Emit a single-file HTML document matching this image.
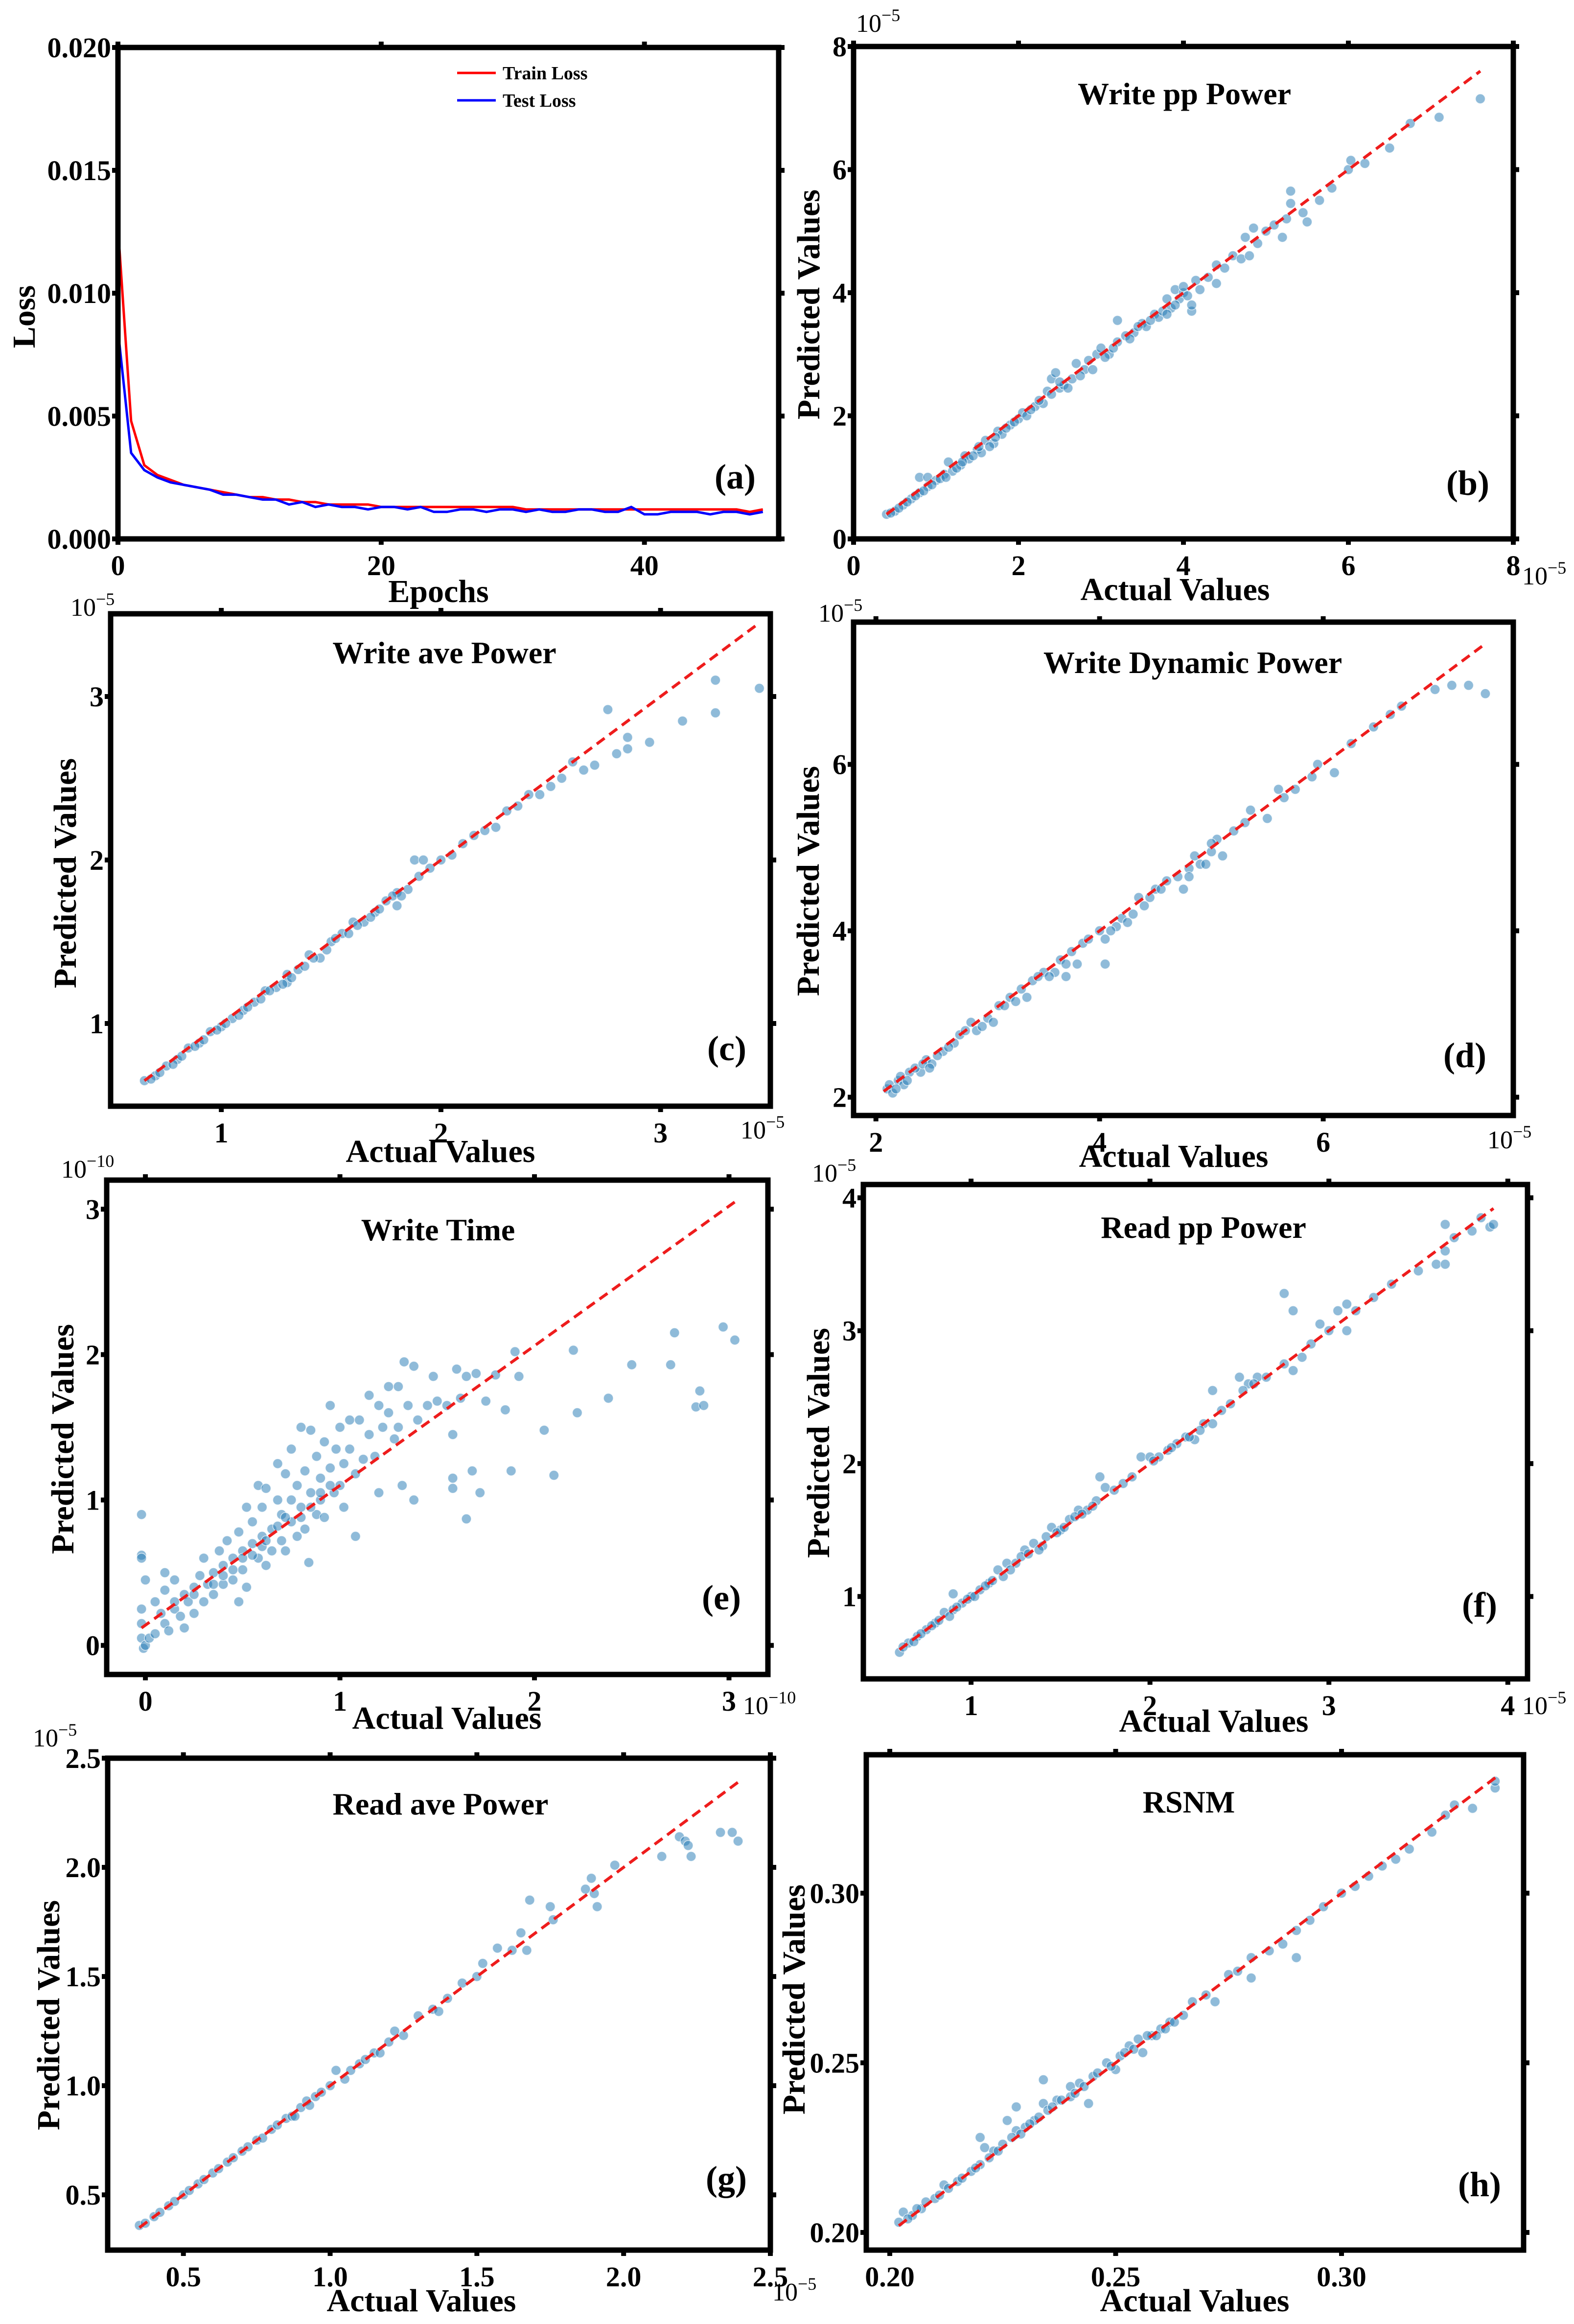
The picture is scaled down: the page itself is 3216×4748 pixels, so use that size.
<!DOCTYPE html>
<html><head><meta charset="utf-8"><title>Model prediction results</title>
<style>
html,body{margin:0;padding:0;background:#fff;}
svg{display:block;}
text{font-family:"Liberation Serif","DejaVu Serif",serif;fill:#000;}
</style></head>
<body>
<svg id="fig" xmlns="http://www.w3.org/2000/svg" width="3216" height="4748" viewBox="0 0 3216 4748">
<rect x="0" y="0" width="3216" height="4748" fill="#fff"></rect>
</svg>
<script>
// ---------- data ----------
const lossEpochs = [0,1,2,3,4,5,6,7,8,9,10,11,12,13,14,15,16,17,18,19,20,21,22,23,24,25,26,27,28,29,30,31,32,33,34,35,36,37,38,39,40,41,42,43,44,45,46,47,48,49];
const trainLoss = [0.0127,0.0048,0.0030,0.0026,0.0024,0.0022,0.0021,0.0020,0.0019,0.0018,0.0017,0.0017,0.0016,0.0016,0.0015,0.0015,0.0014,0.0014,0.0014,0.0014,0.0013,0.0013,0.0013,0.0013,0.0013,0.0013,0.0013,0.0013,0.0013,0.0013,0.0013,0.0012,0.0012,0.0012,0.0012,0.0012,0.0012,0.0012,0.0012,0.0012,0.0012,0.0012,0.0012,0.0012,0.0012,0.0012,0.0012,0.0012,0.0011,0.0012];
const testLoss = [0.0085,0.0035,0.0028,0.0025,0.0023,0.0022,0.0021,0.0020,0.0018,0.0018,0.0017,0.0016,0.0016,0.0014,0.0015,0.0013,0.0014,0.0013,0.0013,0.0012,0.0013,0.0013,0.0012,0.0013,0.0011,0.0011,0.0012,0.0012,0.0011,0.0012,0.0012,0.0011,0.0012,0.0011,0.0011,0.0012,0.0012,0.0011,0.0011,0.0013,0.0010,0.0010,0.0011,0.0011,0.0011,0.0010,0.0011,0.0011,0.0010,0.0011];
const lossXTicks = [0,20,40];
const lossXTickLabels = ["0","20","40"];
const lossYTicks = [0,0.005,0.010,0.015,0.020];
const lossYTickLabels = ["0.000","0.005","0.010","0.015","0.020"];

// scatter data as flat [actual, predicted, ...]
const writePPPoints = [0.4,0.4,0.5,0.45,0.6,0.55,0.7,0.65,0.8,0.75,0.8,1.0,0.9,1.0,0.9,0.85,1.0,0.95,1.1,1.05,1.15,1.25,1.2,1.1,1.3,1.2,1.35,1.35,1.4,1.3,1.5,1.45,1.55,1.4,1.6,1.6,1.7,1.55,1.75,1.75,1.8,1.7,1.9,1.85,2.0,1.95,2.05,2.05,2.1,2.0,2.2,2.15,2.3,2.2,2.35,2.4,2.4,2.6,2.45,2.7,2.5,2.45,2.55,2.5,2.65,2.6,2.7,2.85,2.8,2.75,2.9,2.75,2.95,3.0,3.0,3.1,3.1,3.0,3.2,3.2,3.2,3.55,3.3,3.3,3.4,3.35,3.5,3.5,3.55,3.45,3.65,3.65,3.7,3.6,3.8,3.9,3.85,3.75,3.9,4.05,3.95,3.9,4.0,4.0,4.1,3.7,4.1,3.8,4.15,4.2,4.2,4.05,4.3,4.25,4.4,4.45,4.4,4.15,4.5,4.4,4.6,4.6,4.7,4.55,4.75,4.9,4.8,4.6,4.85,5.05,4.9,4.8,5.0,5.0,5.1,5.1,5.2,4.9,5.25,5.2,5.3,5.65,5.3,5.45,5.45,5.3,5.5,5.15,5.65,5.5,5.8,5.7,6.0,6.0,6.03,6.15,6.2,6.1,6.5,6.35,6.75,6.75,7.1,6.85,7.6,7.15,
 0.45,0.42,0.55,0.5,0.65,0.6,0.75,0.7,0.85,0.78,0.95,0.88,1.05,0.98,1.12,1.0,1.25,1.15,1.32,1.25,1.45,1.35,1.52,1.5,1.65,1.5,1.72,1.65,1.85,1.8,1.95,1.9,2.15,2.1,2.25,2.25,2.4,2.35,2.5,2.55,2.6,2.45,2.75,2.65,2.85,2.9,3.05,2.95,3.15,3.1,3.35,3.25,3.45,3.45,3.6,3.55,3.75,3.7,3.8,3.65,3.9,3.8,4.0,4.1,4.05,3.95];
const writeAvePoints = [0.65,0.65,0.7,0.68,0.75,0.74,0.8,0.78,0.85,0.85,0.9,0.88,0.95,0.95,1.0,0.98,1.05,1.03,1.1,1.08,1.15,1.13,1.2,1.2,1.25,1.22,1.3,1.3,1.3,1.25,1.35,1.33,1.4,1.42,1.45,1.4,1.5,1.5,1.55,1.55,1.6,1.62,1.65,1.62,1.7,1.68,1.75,1.75,1.8,1.72,1.8,1.8,1.85,1.82,1.88,2.0,1.92,2.0,1.9,1.9,1.95,1.95,2.0,2.0,2.05,2.03,2.1,2.1,2.15,2.15,2.2,2.18,2.25,2.2,2.3,2.3,2.35,2.33,2.4,2.4,2.45,2.4,2.5,2.45,2.55,2.5,2.6,2.6,2.65,2.55,2.7,2.58,2.76,2.92,2.8,2.65,2.85,2.68,2.85,2.75,2.95,2.72,3.1,2.85,3.25,2.9,3.25,3.1,3.45,3.05,
 0.68,0.66,0.72,0.7,0.78,0.75,0.82,0.8,0.88,0.86,0.92,0.9,0.98,0.96,1.02,1.0,1.08,1.05,1.12,1.1,1.18,1.15,1.22,1.2,1.28,1.24,1.32,1.28,1.38,1.35,1.42,1.4,1.48,1.45,1.52,1.52,1.58,1.55,1.62,1.6,1.68,1.65,1.72,1.7,1.78,1.78,1.82,1.78];
const writeDynPoints = [2.1,2.1,2.15,2.05,2.2,2.2,2.25,2.15,2.3,2.3,2.4,2.3,2.45,2.45,2.5,2.4,2.6,2.55,2.7,2.65,2.75,2.75,2.85,2.9,2.9,2.8,3.0,2.95,3.05,2.9,3.1,3.1,3.2,3.2,3.3,3.3,3.35,3.2,3.4,3.4,3.5,3.5,3.6,3.5,3.65,3.65,3.7,3.45,3.75,3.75,3.8,3.6,3.85,3.85,4.0,4.0,4.05,3.6,4.05,3.9,4.15,4.05,4.2,4.15,4.3,4.2,4.35,4.4,4.4,4.3,4.5,4.5,4.6,4.6,4.7,4.65,4.75,4.5,4.8,4.75,4.85,4.9,4.9,4.8,5.0,4.95,5.05,5.1,5.1,4.9,5.2,5.2,5.3,5.3,5.35,5.45,5.5,5.35,5.6,5.7,5.65,5.6,5.75,5.7,5.9,5.85,5.95,6.0,6.1,5.9,6.25,6.25,6.45,6.45,6.6,6.6,6.7,6.7,7.0,6.9,7.15,6.95,7.3,6.95,7.45,6.85,
 2.12,2.15,2.18,2.1,2.22,2.25,2.28,2.2,2.35,2.35,2.42,2.4,2.48,2.35,2.55,2.5,2.65,2.6,2.8,2.8,2.95,2.85,3.15,3.1,3.25,3.15,3.45,3.45,3.55,3.45,3.7,3.6,3.9,3.9,4.1,4.0,4.25,4.1,4.45,4.4,4.55,4.5,4.8,4.65,4.95,4.8,5.0,5.05];
const writeTimePoints = [-0.02,0.9,-0.02,0.62,-0.02,0.6,0,0.45,0.1,0.5,-0.02,0.25,-0.02,0.15,-0.02,0.05,-0.01,-0.02,0,0,0.02,0.05,0.05,0.08,0.05,0.3,0.08,0.22,0.1,0.15,0.1,0.38,0.12,0.1,0.15,0.25,0.15,0.45,0.18,0.2,0.2,0.35,0.2,0.12,0.22,0.3,0.25,0.4,0.25,0.22,0.28,0.48,0.3,0.3,0.3,0.6,0.32,0.42,0.35,0.5,0.35,0.35,0.38,0.65,0.4,0.55,0.4,0.42,0.42,0.72,0.45,0.6,0.45,0.45,0.48,0.3,0.48,0.78,0.5,0.65,0.5,0.52,0.52,0.95,0.52,0.4,0.55,0.7,0.55,0.85,0.58,0.6,0.58,1.1,0.6,0.75,0.6,0.95,0.62,0.55,0.62,1.08,0.65,0.8,0.65,0.65,0.68,1.0,0.68,1.25,0.7,0.9,0.7,0.72,0.72,1.18,0.72,0.65,0.75,1.0,0.75,0.85,0.75,1.35,0.78,1.1,0.78,0.75,0.8,0.95,0.8,1.5,0.82,1.2,0.82,0.8,0.84,0.57,0.85,1.05,0.85,1.48,0.88,0.9,0.88,1.3,0.9,1.0,0.9,1.15,0.92,1.4,0.92,0.88,0.95,1.22,0.95,1.65,0.97,1.05,0.98,1.35,1.0,1.1,1.0,1.5,1.02,1.25,1.02,0.95,1.05,1.55,1.05,1.35,1.08,1.18,1.08,0.75,1.1,1.55,1.12,1.28,1.15,1.72,1.15,1.45,1.18,1.3,1.2,1.65,1.2,1.05,1.22,1.5,1.25,1.78,1.25,1.6,1.28,1.42,1.3,1.78,1.3,1.5,1.32,1.1,1.33,1.95,1.35,1.65,1.38,1.92,1.38,1.0,1.4,1.55,1.45,1.65,1.48,1.85,1.5,1.68,1.55,1.65,1.58,1.45,1.58,1.15,1.58,1.08,1.6,1.9,1.62,1.7,1.65,0.87,1.65,1.85,1.68,1.2,1.7,1.87,1.72,1.05,1.75,1.68,1.8,1.86,1.85,1.62,1.88,1.2,1.9,2.02,1.92,1.85,2.05,1.48,2.1,1.17,2.2,2.03,2.22,1.6,2.38,1.7,2.5,1.93,2.7,1.93,2.72,2.15,2.83,1.64,2.85,1.75,2.87,1.65,2.97,2.19,3.03,2.1,
 0.15,0.3,0.25,0.35,0.35,0.42,0.45,0.52,0.55,0.62,0.6,0.68,0.68,0.82,0.72,0.88,0.8,0.88,0.85,0.95,0.9,1.05,0.95,1.1,0.62,0.72,0.5,0.6,0.4,0.48];
const readPPPoints = [0.6,0.58,0.65,0.65,0.7,0.7,0.75,0.75,0.8,0.8,0.85,0.88,0.9,0.9,0.9,1.02,0.95,0.95,1.0,1.0,1.05,1.05,1.1,1.1,1.15,1.2,1.2,1.25,1.25,1.25,1.3,1.35,1.35,1.4,1.4,1.38,1.45,1.52,1.5,1.5,1.55,1.58,1.6,1.65,1.65,1.65,1.7,1.72,1.72,1.9,1.75,1.82,1.8,1.8,1.85,1.85,1.9,1.9,1.95,2.05,2.0,2.05,2.05,2.05,2.1,2.1,2.15,2.15,2.2,2.2,2.25,2.18,2.3,2.3,2.35,2.55,2.35,2.3,2.4,2.4,2.45,2.45,2.5,2.65,2.55,2.6,2.6,2.65,2.65,2.65,2.75,3.28,2.8,3.15,2.75,2.75,2.8,2.7,2.85,2.8,2.9,2.9,2.95,3.05,3.0,3.0,3.05,3.15,3.1,3.2,3.1,3.0,3.15,3.15,3.25,3.25,3.35,3.35,3.5,3.45,3.6,3.5,3.65,3.8,3.65,3.6,3.65,3.5,3.7,3.7,3.8,3.75,3.85,3.85,3.9,3.78,3.92,3.8,
 0.62,0.62,0.68,0.66,0.72,0.72,0.78,0.78,0.82,0.82,0.88,0.85,0.92,0.92,0.98,0.98,1.02,1.0,1.08,1.08,1.12,1.12,1.18,1.15,1.22,1.2,1.28,1.3,1.32,1.32,1.38,1.35,1.42,1.45,1.48,1.48,1.52,1.52,1.58,1.6,1.62,1.62,1.68,1.68,2.02,2.02,2.12,2.12,2.22,2.2,2.28,2.25,2.52,2.55,2.58,2.6];
const readAvePoints = [0.35,0.36,0.4,0.4,0.45,0.45,0.5,0.5,0.55,0.55,0.6,0.6,0.65,0.65,0.7,0.7,0.75,0.75,0.8,0.8,0.85,0.85,0.9,0.9,0.95,0.95,1.0,1.0,1.02,1.07,1.05,1.03,1.1,1.1,1.15,1.15,1.2,1.2,1.22,1.25,1.25,1.23,1.3,1.32,1.35,1.35,1.37,1.34,1.4,1.4,1.45,1.47,1.5,1.5,1.52,1.56,1.57,1.63,1.62,1.62,1.65,1.7,1.67,1.62,1.68,1.85,1.75,1.82,1.76,1.76,1.87,1.9,1.89,1.95,1.9,1.88,1.91,1.82,1.97,2.01,2.13,2.05,2.19,2.14,2.21,2.12,2.22,2.1,2.23,2.05,2.33,2.16,2.37,2.16,2.39,2.12,
 0.37,0.37,0.42,0.42,0.47,0.47,0.52,0.52,0.57,0.57,0.62,0.62,0.67,0.67,0.72,0.72,0.77,0.76,0.82,0.82,0.87,0.86,0.92,0.93,0.97,0.97,0.88,0.86,0.93,0.91,1.07,1.07,1.12,1.12,1.17,1.15];
const rsnmPoints = [0.202,0.203,0.203,0.206,0.205,0.205,0.207,0.207,0.21,0.21,0.212,0.214,0.215,0.215,0.218,0.218,0.22,0.22,0.22,0.228,0.221,0.225,0.223,0.224,0.225,0.226,0.226,0.233,0.228,0.237,0.228,0.23,0.23,0.231,0.232,0.233,0.234,0.238,0.234,0.245,0.235,0.236,0.237,0.239,0.24,0.243,0.24,0.24,0.242,0.244,0.244,0.238,0.245,0.246,0.248,0.25,0.25,0.248,0.251,0.252,0.253,0.255,0.255,0.257,0.256,0.253,0.258,0.258,0.26,0.26,0.262,0.262,0.265,0.264,0.267,0.268,0.27,0.27,0.272,0.268,0.275,0.276,0.277,0.277,0.28,0.275,0.28,0.281,0.284,0.283,0.287,0.285,0.29,0.289,0.29,0.281,0.293,0.292,0.296,0.296,0.3,0.3,0.303,0.302,0.306,0.305,0.309,0.308,0.312,0.31,0.315,0.313,0.32,0.318,0.323,0.323,0.325,0.326,0.329,0.325,0.334,0.331,0.334,0.333,
 0.204,0.204,0.206,0.207,0.208,0.209,0.211,0.211,0.213,0.213,0.216,0.216,0.219,0.219,0.222,0.222,0.224,0.224,0.227,0.228,0.229,0.229,0.231,0.232,0.233,0.234,0.236,0.237,0.238,0.239,0.241,0.241,0.243,0.243,0.246,0.247,0.249,0.249,0.252,0.253,0.254,0.254,0.257,0.258,0.259,0.258,0.261,0.26,0.263,0.262];

// ideal reference line endpoints [x0,y0,x1,y1]
const writePPLine = [0.4,0.4,7.6,7.6];
const writeAveLine = [0.65,0.65,3.45,3.45];
const writeDynLine = [2.07,2.07,7.42,7.42];
const writeTimeLine = [-0.02,0.12,3.03,3.05];
const readPPLine = [0.6,0.6,3.92,3.92];
const readAveLine = [0.35,0.35,2.39,2.39];
const rsnmLine = [0.202,0.202,0.335,0.335];

// tick values and labels
const ticks08 = [0,2,4,6,8];
const labels08 = ["0","2","4","6","8"];
const ticks123 = [1,2,3];
const labels123 = ["1","2","3"];
const ticks246 = [2,4,6];
const labels246 = ["2","4","6"];
const ticks0123 = [0,1,2,3];
const labels0123 = ["0","1","2","3"];
const ticks1234 = [1,2,3,4];
const labels1234 = ["1","2","3","4"];
const ticksHalf = [0.5,1.0,1.5,2.0,2.5];
const labelsHalf = ["0.5","1.0","1.5","2.0","2.5"];
const ticksRsnm = [0.20,0.25,0.30];
const labelsRsnm = ["0.20","0.25","0.30"];

// ---------- rendering ----------
const NS = "http://www.w3.org/2000/svg";
const svg = document.getElementById("fig");
function mk(tag, parent){ const e=document.createElementNS(NS,tag); (parent||svg).appendChild(e); return e; }
function txt(parent, s, x, y, size, anchor, weight){
  const t = mk("text", parent);
  t.setAttribute("x", x); t.setAttribute("y", y);
  t.setAttribute("font-size", size);
  t.setAttribute("text-anchor", anchor || "middle");
  t.setAttribute("font-weight", weight || "bold");
  t.textContent = s;
  return t;
}

function drawFrame(g, P, xt, xl, yt, yl){
  const sx = v => P.l + (v - P.x0) / (P.x1 - P.x0) * (P.r - P.l);
  const sy = v => P.b - (v - P.y0) / (P.y1 - P.y0) * (P.b - P.t);
  xt.forEach((v,i) => {
    const X = sx(v);
    const tb = mk("line", g);
    
    
    tb.setAttribute("x1",X); tb.setAttribute("x2",X); tb.setAttribute("y1",P.b); tb.setAttribute("y2",P.b+12);
    tb.setAttribute("stroke","#000"); tb.setAttribute("stroke-width",10);
    const tt = mk("line", g);
    
    
    tt.setAttribute("x1",X); tt.setAttribute("x2",X); tt.setAttribute("y1",P.t); tt.setAttribute("y2",P.t-12);
    tt.setAttribute("stroke","#000"); tt.setAttribute("stroke-width",10);
    const lab = txt(g, xl[i], X, P.b + 74, 58, "middle");
    
    
  });
  yt.forEach((v,i) => {
    const Y = sy(v);
    const tl = mk("line", g);
    
    
    tl.setAttribute("x1",P.l); tl.setAttribute("x2",P.l-12); tl.setAttribute("y1",Y); tl.setAttribute("y2",Y);
    tl.setAttribute("stroke","#000"); tl.setAttribute("stroke-width",10);
    const tr = mk("line", g);
    
    
    tr.setAttribute("x1",P.r); tr.setAttribute("x2",P.r+12); tr.setAttribute("y1",Y); tr.setAttribute("y2",Y);
    tr.setAttribute("stroke","#000"); tr.setAttribute("stroke-width",10);
    const lab = txt(g, yl[i], P.l - 14, Y + 20, 58, "end");
    
    
  });
}

function drawBorder(g, P){
  const r = mk("rect", g);
  
  
  r.setAttribute("x",P.l); r.setAttribute("y",P.t);
  r.setAttribute("width",P.r-P.l); r.setAttribute("height",P.b-P.t);
  r.setAttribute("fill","none"); r.setAttribute("stroke","#000"); r.setAttribute("stroke-width",11);
}

function expLabel(g, x, y, sup, name){
  const t = mk("text", g);
  
  
  t.setAttribute("x", x); t.setAttribute("y", y);
  t.setAttribute("font-size", 52);
  const a = mk("tspan", t); a.textContent = "10";
  const b = mk("tspan", t); b.setAttribute("dy", -22); b.setAttribute("font-size", 36); b.textContent = sup;
}

function scatterPanel(P, pts, line, xt, xl, yt, yl, key){
  const g = mk("g");
  
  
  const sx = v => P.l + (v - P.x0) / (P.x1 - P.x0) * (P.r - P.l);
  const sy = v => P.b - (v - P.y0) / (P.y1 - P.y0) * (P.b - P.t);
  for (let i = 0; i < pts.length; i += 2){
    const c = mk("circle", g);
    
    
    c.setAttribute("cx", sx(pts[i])); c.setAttribute("cy", sy(pts[i+1])); c.setAttribute("r", 10);
    c.setAttribute("fill", "rgba(31,119,180,0.5)");
    c.setAttribute("stroke", "rgba(255,255,255,0.7)"); c.setAttribute("stroke-width", 1.5);
  }
  const ln = mk("line", g);
  
  
  ln.setAttribute("x1", sx(line[0])); ln.setAttribute("y1", sy(line[1]));
  ln.setAttribute("x2", sx(line[2])); ln.setAttribute("y2", sy(line[3]));
  ln.setAttribute("stroke", "#ee1c1c"); ln.setAttribute("stroke-width", 6); ln.setAttribute("stroke-dasharray", "20 12");
  drawFrame(g, P, xt, xl, yt, yl);
  drawBorder(g, P);
  const ti = txt(g, P.title, P.tx, P.ty + 22, 64, "middle");
  
  
  const lt = txt(g, "(" + key + ")", P.lx, P.ly + 24, 72, "middle");
  
  
  const xa = txt(g, "Actual Values", P.xax, P.xay + 24, 66, "middle");
  
  
  const ya = txt(g, "Predicted Values", 0, 0, 66, "middle");
  
  
  ya.setAttribute("transform", "translate(" + (P.yax + 22) + "," + P.yay + ") rotate(-90)");
  if (P.e1) expLabel(g, P.e1[0], P.e1[1], P.sup, 'y-axis-exponent');
  if (P.e2) expLabel(g, P.e2[0], P.e2[1], P.sup, 'x-axis-exponent');
  return g;
}

// ---- panel (a): loss curves ----
(function(){
  const P = {l:241, r:1591, t:97, b:1101, x0:0, x1:50.2, y0:0, y1:0.020};
  const g = mk("g");
  
  
  const sx = v => P.l + (v - P.x0) / (P.x1 - P.x0) * (P.r - P.l);
  const sy = v => P.b - (v - P.y0) / (P.y1 - P.y0) * (P.b - P.t);
  const tr = mk("polyline", g);
  
  
  tr.setAttribute("points", lossEpochs.map((e,i) => sx(e) + "," + sy(trainLoss[i])).join(" "));
  tr.setAttribute("fill","none"); tr.setAttribute("stroke","#ff0000"); tr.setAttribute("stroke-width",5);
  const te = mk("polyline", g);
  
  
  te.setAttribute("points", lossEpochs.map((e,i) => sx(e) + "," + sy(testLoss[i])).join(" "));
  te.setAttribute("fill","none"); te.setAttribute("stroke","#0000ff"); te.setAttribute("stroke-width",5);
  drawFrame(g, P, lossXTicks, lossXTickLabels, lossYTicks, lossYTickLabels);
  drawBorder(g, P);
  const l1 = mk("line", g);
  
  
  l1.setAttribute("x1",934); l1.setAttribute("x2",1013); l1.setAttribute("y1",149); l1.setAttribute("y2",149);
  l1.setAttribute("stroke","#ff0000"); l1.setAttribute("stroke-width",5);
  const t1 = txt(g, "Train Loss", 1027, 162, 38, "start");
  
  
  const l2 = mk("line", g);
  
  
  l2.setAttribute("x1",934); l2.setAttribute("x2",1013); l2.setAttribute("y1",205); l2.setAttribute("y2",205);
  l2.setAttribute("stroke","#0000ff"); l2.setAttribute("stroke-width",5);
  const t2 = txt(g, "Test Loss", 1027, 218, 38, "start");
  
  
  const lt = txt(g, "(a)", 1502, 998, 72, "middle");
  
  
  const xa = txt(g, "Epochs", 896, 1230, 66, "middle");
  
  
  const ya = txt(g, "Loss", 0, 0, 66, "middle");
  
  
  ya.setAttribute("transform", "translate(71,647) rotate(-90)");
})();

scatterPanel({l:1744,r:3092,t:95,b:1101,x0:0,x1:8,y0:0,y1:8,title:"Write pp Power",tx:2420,ty:191,lx:2999,ly:987,xax:2401,xay:1202,yax:1652,yay:622,sup:"−5",e1:[1749,65],e2:[3110,1194]},
  writePPPoints, writePPLine, ticks08, labels08, ticks08, labels08, "b");
scatterPanel({l:226,r:1574,t:1254,b:2260,x0:0.496,x1:3.50,y0:0.494,y1:3.506,title:"Write ave Power",tx:908,ty:1333,lx:1485,ly:2142,xax:900,xay:2350,yax:133,yay:1784,sup:"−5",e1:[144,1258],e2:[1513,2326]},
  writeAvePoints, writeAveLine, ticks123, labels123, ticks123, labels123, "c");
scatterPanel({l:1744,r:3092,t:1271,b:2279,x0:1.80,x1:7.70,y0:1.78,y1:7.71,title:"Write Dynamic Power",tx:2437,ty:1353,lx:2993,ly:2156,xax:2398,xay:2360,yax:1651,yay:1800,sup:"−5",e1:[1672,1270],e2:[3039,2346]},
  writeDynPoints, writeDynLine, ticks246, labels246, ticks246, labels246, "d");
scatterPanel({l:218,r:1569,t:2411,b:3421,x0:-0.199,x1:3.20,y0:-0.20,y1:3.20,title:"Write Time",tx:895,ty:2512,lx:1474,ly:3264,xax:913,xay:3508,yax:128,yay:2940,sup:"−10",e1:[125,2406],e2:[1518,3502]},
  writeTimePoints, writeTimeLine, ticks0123, labels0123, ticks0123, labels0123, "e");
scatterPanel({l:1764,r:3121,t:2420,b:3430,x0:0.398,x1:4.11,y0:0.38,y1:4.10,title:"Read pp Power",tx:2459,ty:2507,lx:3023,ly:3279,xax:2480,xay:3514,yax:1672,yay:2948,sup:"−5",e1:[1659,2414],e2:[3110,3502]},
  readPPPoints, readPPLine, ticks1234, labels1234, ticks1234, labels1234, "f");
scatterPanel({l:220,r:1574,t:3592,b:4597,x0:0.242,x1:2.50,y0:0.247,y1:2.50,title:"Read ave Power",tx:900,ty:3685,lx:1484,ly:4451,xax:861,xay:4698,yax:99,yay:4117,sup:"−5",e1:[67,3568],e2:[1578,4700]},
  readAvePoints, readAveLine, ticksHalf, labelsHalf, ticksHalf, labelsHalf, "g");
scatterPanel({l:1770,r:3113,t:3585,b:4597,x0:0.1948,x1:0.3403,y0:0.1948,y1:0.3408,title:"RSNM",tx:2429,ty:3681,lx:3023,ly:4463,xax:2441,xay:4698,yax:1622,yay:4085,sup:"",e1:null,e2:null},
  rsnmPoints, rsnmLine, ticksRsnm, labelsRsnm, ticksRsnm, labelsRsnm, "h");
</script>
</body></html>
